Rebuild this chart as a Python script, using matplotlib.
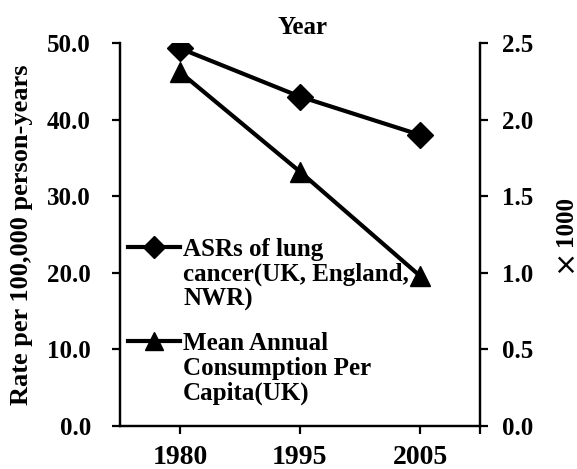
import matplotlib
matplotlib.use("Agg")
import matplotlib.pyplot as plt
from matplotlib.lines import Line2D

years = ["1980", "1995", "2005"]
asr = [49.3, 43.0, 38.0]
consumption = [2.31, 1.66, 0.98]
left_ticks = [0, 10, 20, 30, 40, 50]
right_ticks = [0, 0.5, 1.0, 1.5, 2.0, 2.5]
legend_asr = ["ASRs of lung", "cancer(UK, England,", "NWR)"]
legend_cons = ["Mean Annual", "Consumption Per", "Capita(UK)"]

plt.rcParams['font.family'] = ['Liberation Serif', 'DejaVu Serif']
plt.rcParams['font.weight'] = 'bold'

W, H = 577, 469
fig = plt.figure(figsize=(W/100, H/100), dpi=100)
ax = fig.add_axes([120/W, 1-426/H, 360/W, 383/H])
ax2 = ax.twinx()

x = list(range(len(years)))
ax.plot(x, asr, color='black', lw=3, marker='D', ms=13)
ax2.plot(x, consumption, color='black', lw=3, marker='^', ms=15)

ax.set_xlim(-0.5, 2.5)
ax.set_ylim(0, 50)
ax2.set_ylim(0, 2.5)
ax.set_yticks(left_ticks)
ax.set_yticklabels([f"{v:.1f}" for v in left_ticks])
ax2.set_yticks(right_ticks)
ax2.set_yticklabels([f"{v:.1f}" for v in right_ticks])
ax.set_xticks(x + [2.5])
ax.set_xticklabels(years + [""])

for a in (ax, ax2):
    a.spines['top'].set_visible(False)
    for s in a.spines.values():
        s.set_linewidth(1.6)
    a.tick_params(axis='both', width=1.6, length=6, direction='out')
ax.tick_params(axis='x', pad=8, labelsize=20)
ax.tick_params(axis='y', pad=15, labelsize=18)
ax2.tick_params(axis='y', pad=10, labelsize=18)

# axis titles
fig.text(22/W, 1-235/H, "Rate per 100,000 person-years", rotation=90,
         fontsize=19, fontweight='bold', ha='center', va='center')
fig.text(303/W, 1-28/H, "Year", fontsize=18, fontweight='bold', ha='center', va='center')
fig.text(565/W, 1-221/H, "1000", rotation=90, fontsize=18, fontweight='bold',
         ha='center', va='center')
fig.text(564/W, 1-260/H, "×", rotation=90, fontsize=21, fontweight='normal',
         family=['DejaVu Sans'], ha='center', va='center')

# legend drawn manually (marker aligned with first text line)
def legend_entry(ypix, marker, ms, lines):
    yf = 1 - ypix / H
    fig.add_artist(Line2D([128/W, 180/W], [yf, yf], color='black', lw=3,
                          transform=fig.transFigure))
    fig.add_artist(Line2D([154/W], [yf], color='black', lw=0, marker=marker, ms=ms,
                          transform=fig.transFigure))
    for i, t in enumerate(lines):
        fig.text(183/W, 1 - (ypix + 25*i)/H, t, fontsize=18, fontweight='bold',
                 ha='left', va='center_baseline')

legend_entry(247, 'D', 11, legend_asr)
legend_entry(341, '^', 13, legend_cons)

fig.savefig("out.png", dpi=100)
